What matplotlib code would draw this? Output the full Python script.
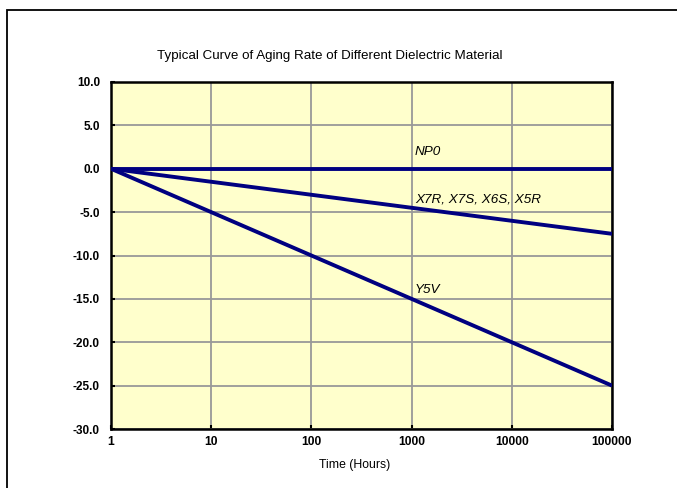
import numpy as np
import matplotlib
matplotlib.use("Agg")
import matplotlib.pyplot as plt
from matplotlib.patches import Rectangle

plt.rcParams["font.family"] = ["Liberation Sans", "DejaVu Sans"]

# aging curves: change (%) vs time (hours)
hours = [1, 10, 100, 1000, 10000, 100000]
np0 = [0.0, 0.0, 0.0, 0.0, 0.0, 0.0]
x7r = [0.0, -1.5, -3.0, -4.5, -6.0, -7.5]
y5v = [0.0, -5.0, -10.0, -15.0, -20.0, -25.0]

labels = ["NP0", "X7R, X7S, X6S, X5R", "Y5V"]
label_x = [1000, 1000, 1000]
label_y = [1.9, -3.6, -14.0]

yticks = [10, 5, 0, -5, -10, -15, -20, -25, -30]

navy = "#000080"

fig = plt.figure(figsize=(6.77, 4.88), dpi=100)
# outer frame (left and top edges visible)
fig.patches.append(Rectangle((7 / 677, -0.1), 1.2, 1 - 10 / 488 + 0.1,
                             transform=fig.transFigure, fill=False,
                             edgecolor="black", lw=1.3))

ax = fig.add_axes([111 / 677, 1 - 429 / 488, 501 / 677, 347 / 488])
ax.set_facecolor("#FFFFCC")

for ys in (np0, x7r, y5v):
    ax.plot(hours, ys, color=navy, lw=2.8, solid_capstyle="butt", zorder=3)

for t, xx, yy in zip(labels, label_x, label_y):
    ax.annotate(t, (xx, yy), xytext=(2.5, 0), textcoords="offset points",
                fontsize=9.7, style="italic", va="center", ha="left",
                zorder=4)

ax.set_xscale("log")
ax.set_xlim(1, 100000)
ax.set_ylim(-30, 10)
ax.set_xticks(hours)
ax.set_xticklabels([str(h) for h in hours], fontsize=8.7, fontweight="bold")
ax.set_yticks(yticks)
ax.set_yticklabels([f"{v:.1f}" for v in yticks], fontsize=8.5,
                   fontweight="bold")
ax.minorticks_off()
ax.tick_params(direction="in", length=3, width=1.5)
ax.tick_params(axis="x", pad=5)
ax.tick_params(axis="y", pad=8)
ax.grid(True, color="#999999", lw=1.3)
ax.set_axisbelow(True)
for sp in ax.spines.values():
    sp.set_linewidth(1.8)

fig.text(330 / 677, 1 - 56 / 488, "Typical Curve of Aging Rate of Different Dielectric Material",
         fontsize=9.6, ha="center", va="center")
fig.text(355 / 677, 1 - 465 / 488, "Time (Hours)", fontsize=8.8,
         ha="center", va="center")

fig.savefig("out.png", dpi=100)
